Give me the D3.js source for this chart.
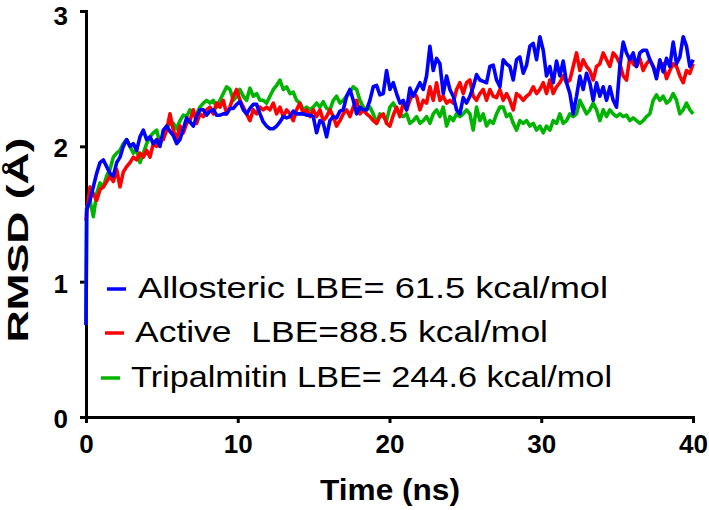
<!DOCTYPE html>
<html><head><meta charset="utf-8">
<script src="https://cdn.jsdelivr.net/npm/d3@7"></script>
<style>body{margin:0;background:#fff}svg{display:block}</style>
</head><body>
<script>
// Sampling grid (ns)
const timeStart = 0.044, timeStep = 0.2196;
const startRmsd = {allosteric: 0.68, active: 1.45, tripalmitin: 0.68};

const allostericRmsd = [
1.53,1.60,1.70,1.80,1.88,1.90,1.85,1.80,1.78,1.88,
1.92,2.00,2.05,2.00,2.02,1.97,2.07,2.12,2.05,2.07,
2.02,2.05,2.00,2.12,2.15,2.11,2.08,2.02,2.05,2.13,
2.21,2.18,2.15,2.22,2.27,2.27,2.23,2.26,2.27,2.23,
2.23,2.24,2.24,2.28,2.28,2.31,2.33,2.27,2.24,2.28,
2.31,2.31,2.24,2.18,2.15,2.13,2.13,2.15,2.18,2.22,
2.21,2.22,2.26,2.24,2.24,2.24,2.23,2.23,2.22,2.10,
2.19,2.17,2.07,2.19,2.22,2.21,2.26,2.27,2.37,2.42,
2.34,2.24,2.29,2.27,2.27,2.34,2.44,2.45,2.38,2.39,
2.56,2.42,2.47,2.39,
2.32,2.34,2.27,2.43,2.37,2.42,2.47,2.42,2.52,2.74,
2.56,2.65,2.61,2.39,2.52,2.42,2.37,2.27,2.24,2.36,
2.32,2.37,2.44,2.53,2.49,2.48,2.47,2.59,2.60,2.49,
2.44,2.64,2.61,2.59,2.49,2.64,2.66,2.54,2.60,2.74,
2.76,2.64,2.81,2.71,2.52,2.59,2.47,2.63,2.52,2.63,
2.47,2.39,2.24,2.37,2.52,2.42,2.54,2.47,2.34,2.47,
2.37,2.44,2.34,2.44,2.34,2.29,2.59,2.77,2.69,2.64,
2.69,2.59,2.69,2.71,2.71,2.64,2.59,2.50,2.64,2.55,
2.65,2.59,2.77,2.61,2.66,2.81,2.74,2.59,2.64];

const activeRmsd = [
1.51,1.70,1.65,1.60,1.68,1.70,1.74,1.78,1.74,1.83,
1.70,1.81,1.85,1.88,1.92,1.90,1.95,1.92,1.97,1.92,
2.02,2.00,2.05,2.05,2.12,2.24,2.12,2.05,2.15,2.10,
2.17,2.19,2.27,2.17,2.24,2.22,2.27,2.29,2.24,2.32,
2.29,2.34,2.24,2.29,2.37,2.42,2.34,2.29,2.24,2.19,
2.27,2.24,2.29,2.27,2.29,2.27,2.32,2.24,2.29,2.22,
2.27,2.24,2.19,2.27,2.32,2.24,2.27,2.22,2.27,2.22,
2.27,2.19,2.22,2.27,2.22,2.15,2.19,2.24,2.27,2.22,
2.29,2.34,2.24,2.27,2.24,2.22,2.19,2.17,2.22,2.24,
2.17,2.15,2.23,2.29,
2.22,2.32,2.27,2.34,2.39,2.37,2.27,2.34,2.32,2.44,
2.34,2.47,2.34,2.37,2.32,2.34,2.32,2.42,2.47,2.39,
2.47,2.49,2.37,2.34,2.39,2.42,2.34,2.42,2.37,2.36,
2.42,2.34,2.39,2.34,2.27,2.39,2.37,2.34,2.37,2.39,
2.44,2.39,2.42,2.47,2.39,2.49,2.39,2.44,2.47,2.52,
2.47,2.49,2.59,2.69,2.56,2.64,2.59,2.56,2.49,2.59,
2.61,2.69,2.64,2.59,2.69,2.66,2.61,2.52,2.49,2.66,
2.61,2.59,2.65,2.56,2.61,2.64,2.59,2.54,2.59,2.61,
2.50,2.56,2.61,2.59,2.52,2.47,2.56,2.54,2.61];

const tripalmitinRmsd = [
1.55,1.60,1.48,1.65,1.73,1.70,1.78,1.83,1.92,1.95,
1.97,2.02,2.05,2.00,1.95,1.97,1.88,1.95,2.02,2.07,
2.10,2.12,2.02,2.07,2.15,2.16,2.17,2.13,2.19,2.23,
2.22,2.27,2.24,2.24,2.29,2.32,2.34,2.32,2.34,2.29,
2.34,2.39,2.44,2.42,2.34,2.37,2.42,2.37,2.34,2.43,
2.37,2.39,2.34,2.34,2.32,2.37,2.42,2.45,2.49,2.42,
2.44,2.39,2.40,2.34,2.32,2.27,2.29,2.27,2.29,2.32,
2.29,2.33,2.28,2.27,2.34,2.37,2.32,2.34,2.37,2.40,
2.44,2.42,2.34,2.29,2.27,2.29,2.24,2.17,2.24,2.22,
2.19,2.29,2.32,2.27,
2.24,2.22,2.24,2.17,2.19,2.22,2.17,2.19,2.22,2.17,
2.24,2.27,2.22,2.29,2.15,2.22,2.19,2.24,2.22,2.24,
2.27,2.24,2.12,2.29,2.19,2.24,2.15,2.19,2.17,2.24,
2.29,2.29,2.22,2.24,2.17,2.12,2.19,2.17,2.19,2.15,
2.17,2.12,2.15,2.10,2.15,2.12,2.19,2.17,2.24,2.17,
2.19,2.24,2.22,2.24,2.34,2.29,2.24,2.27,2.32,2.27,
2.19,2.27,2.22,2.27,2.24,2.22,2.24,2.22,2.23,2.19,
2.21,2.19,2.17,2.19,2.22,2.24,2.34,2.38,2.34,2.37,
2.32,2.34,2.39,2.34,2.24,2.27,2.32,2.27,2.24];

const seriesNames = ["Tripalmitin LBE= 244.6 kcal/mol", "Active  LBE=88.5 kcal/mol", "Allosteric LBE= 61.5 kcal/mol"];
const seriesColors = ["#00b400", "#ff0000", "#0000ff"];
const xTicks = [0, 10, 20, 30, 40];
const yTicks = [0, 1, 2, 3];

const W = 709, H = 510;
const svg = d3.select("body").append("svg").attr("width", W).attr("height", H);
const x = d3.scaleLinear().domain([0, 40]).range([86, 693]);
const y = d3.scaleLinear().domain([0, 3]).range([417, 11]);
const font = "Arial, 'Liberation Sans', sans-serif";

// axes
const gx = svg.append("g").attr("transform", "translate(0,417)")
  .call(d3.axisBottom(x).tickValues(xTicks).tickFormat(d3.format("d")).tickSize(6).tickSizeOuter(0).tickPadding(12));
const gy = svg.append("g").attr("transform", "translate(86,0)")
  .call(d3.axisLeft(y).tickValues(yTicks).tickFormat(d3.format("d")).tickSize(6).tickSizeOuter(0).tickPadding(12));
[gx, gy].forEach(g => {
  g.select(".domain").attr("stroke", "#000").attr("stroke-width", 3).attr("stroke-linecap", "square");
  g.selectAll(".tick line").attr("stroke", "#000").attr("stroke-width", 3);
  g.selectAll(".tick text").attr("fill", "#000").style("font-family", font)
    .style("font-weight", "bold").style("font-size", "26px");
});
gy.selectAll(".tick text").attr("dy", d => d === 3 ? "0.5em" : "0.4em");

// series
const series = [
  {vals: tripalmitinRmsd, start: startRmsd.tripalmitin},
  {vals: activeRmsd, start: startRmsd.active},
  {vals: allostericRmsd, start: startRmsd.allosteric}
];
const line = d3.line().x(d => x(d[0])).y(d => y(d[1]));
series.forEach((s, i) => {
  const pts = [[0, s.start]].concat(s.vals.map((v, k) => [timeStart + k * timeStep, v]));
  svg.append("path").datum(pts).attr("d", line).attr("fill", "none")
    .attr("stroke", seriesColors[i]).attr("stroke-width", 3.6).attr("stroke-linejoin", "round");
});

// axis titles
svg.append("text").attr("x", 390).attr("y", 500).attr("text-anchor", "middle")
  .style("font-family", font).style("font-weight", "bold").style("font-size", "30px")
  .attr("textLength", 140).attr("lengthAdjust", "spacingAndGlyphs")
  .text("Time (ns)");
svg.append("text").attr("transform", "translate(28,240) rotate(-90)").attr("text-anchor", "middle")
  .style("font-family", font).style("font-weight", "bold").style("font-size", "29px")
  .attr("textLength", 205).attr("lengthAdjust", "spacingAndGlyphs")
  .text("RMSD (Å)");

// legend
const legend = [
  {i: 2, lx: 107, tx: 138, y: 289, len: 470},
  {i: 1, lx: 105, tx: 135, y: 333, len: 413},
  {i: 0, lx: 101, tx: 131, y: 378, len: 481}
];
legend.forEach(d => {
  svg.append("line").attr("x1", d.lx).attr("x2", d.lx + 19).attr("y1", d.y).attr("y2", d.y)
    .attr("stroke", seriesColors[d.i]).attr("stroke-width", 3.5);
  svg.append("text").attr("x", d.tx).attr("y", d.y + 9)
    .style("font-family", font).style("font-size", "29px").style("white-space", "pre")
    .attr("textLength", d.len).attr("lengthAdjust", "spacingAndGlyphs")
    .text(seriesNames[d.i]);
});
</script>
</body></html>
